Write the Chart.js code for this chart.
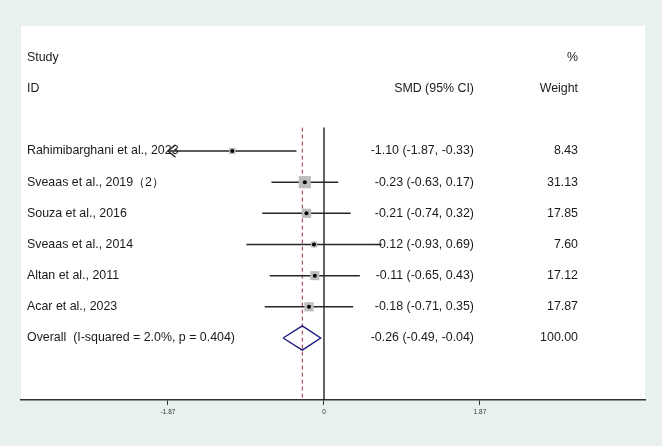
<!DOCTYPE html>
<html>
<head>
<meta charset="utf-8">
<script src="https://cdn.jsdelivr.net/npm/chart.js@4"></script>
<style>
  html, body { margin: 0; padding: 0; background: #e8f0f0; }
  #wrap { width: 662px; height: 446px; }
</style>
</head>
<body>
<div id="wrap"><canvas id="forest"></canvas></div>
<script>
// Forest plot data
const studies = ['Rahimibarghani et al., 2023', 'Sveaas et al., 2019（2）', 'Souza et al., 2016',
                 'Sveaas et al., 2014', 'Altan et al., 2011', 'Acar et al., 2023'];
const smd = [-1.10, -0.23, -0.21, -0.12, -0.11, -0.18];
const ciLow = [-1.87, -0.63, -0.74, -0.93, -0.65, -0.71];
const ciHigh = [-0.33, 0.17, 0.32, 0.69, 0.43, 0.35];
const weights = [8.43, 31.13, 17.85, 7.60, 17.12, 17.87];

const overallLabel = 'Overall  (I-squared = 2.0%, p = 0.404)';
const overallSmd = -0.26;
const overallLow = -0.49;
const overallHigh = -0.04;
const overallWeight = 100.00;

const xTicks = [-1.87, 0, 1.87];

// rows: 0 = "Study/%", 1 = "ID/SMD/Weight", studies start at 3
const firstRow = 3;
const rowOf = i => firstRow + i;
const overallRow = firstRow + studies.length;
const yTop = -1.01, yBottom = 10.99, lineTop = 2.25;

const fmt = v => v.toFixed(2);

// confidence interval lines, one dataset each
const ciSets = studies.map((s, i) => ({
    type: 'line',
    data: [{ x: ciLow[i], y: rowOf(i) }, { x: ciHigh[i], y: rowOf(i) }],
    borderColor: '#262626',
    borderWidth: 1.5,
    pointRadius: 0,
    order: 3
}));

// arrow where the CI reaches the axis limit
const arrowSets = studies.map((s, i) => i).filter(i => ciLow[i] <= xTicks[0]).map(i => ({
    type: 'line',
    data: [{ x: ciLow[i] + 0.09, y: rowOf(i) - 0.2 }, { x: ciLow[i], y: rowOf(i) }, { x: ciLow[i] + 0.09, y: rowOf(i) + 0.2 }],
    borderColor: '#262626',
    borderWidth: 1.3,
    pointRadius: 0,
    order: 3
}));

const datasets = [
    ...ciSets,
    ...arrowSets,
    {
        // weight boxes
        type: 'scatter',
        data: smd.map((v, i) => ({ x: v, y: rowOf(i) })),
        pointStyle: 'rect',
        pointRadius: weights.map(w => 1.55 * Math.sqrt(w)),
        backgroundColor: '#bdbdbd',
        borderWidth: 0,
        order: 2
    },
    {
        // point estimates
        type: 'scatter',
        data: smd.map((v, i) => ({ x: v, y: rowOf(i) })),
        pointStyle: 'circle',
        pointRadius: 2,
        backgroundColor: '#000',
        borderWidth: 0,
        order: 1
    },
    {
        // null line
        type: 'line',
        data: [{ x: 0, y: lineTop }, { x: 0, y: yBottom }],
        borderColor: '#111',
        borderWidth: 1.3,
        pointRadius: 0,
        order: 4
    },
    {
        // overall effect line
        type: 'line',
        data: [{ x: overallSmd, y: lineTop }, { x: overallSmd, y: yBottom }],
        borderColor: '#a0303a',
        borderWidth: 1,
        borderDash: [4, 3],
        pointRadius: 0,
        order: 4
    },
    {
        // overall diamond
        type: 'line',
        data: [
            { x: overallLow, y: overallRow },
            { x: overallSmd, y: overallRow - 0.39 },
            { x: overallHigh, y: overallRow },
            { x: overallSmd, y: overallRow + 0.39 },
            { x: overallLow, y: overallRow }
        ],
        borderColor: '#1c1c80',
        borderWidth: 1.4,
        pointRadius: 0,
        order: 0
    }
];

const panelPlugin = {
    id: 'panel',
    beforeDraw(chart) {
        const { ctx, chartArea: a } = chart;
        ctx.save();
        ctx.fillStyle = '#e8f0f0';
        ctx.fillRect(0, 0, chart.width, chart.height);
        ctx.fillStyle = '#ffffff';
        ctx.fillRect(a.left, a.top, a.right - a.left, a.bottom - a.top);
        ctx.restore();
    },
    afterDatasetsDraw(chart) {
        const { ctx } = chart;
        const y = chart.scales.y;
        ctx.save();
        ctx.font = '12.4px "Liberation Sans", Arial, sans-serif';
        ctx.fillStyle = '#1a1a1a';
        ctx.textBaseline = 'middle';

        const labelX = 27, smdX = 474, wtX = 578;
        const put = (txt, x, row, align) => {
            ctx.textAlign = align;
            ctx.fillText(txt, x, y.getPixelForValue(row));
        };
        put('Study', labelX, 0, 'left');
        put('ID', labelX, 1, 'left');
        put('%', wtX, 0, 'right');
        put('SMD (95% CI)', smdX, 1, 'right');
        put('Weight', wtX, 1, 'right');

        studies.forEach((s, i) => {
            put(s, labelX, rowOf(i), 'left');
            put(fmt(smd[i]) + ' (' + fmt(ciLow[i]) + ', ' + fmt(ciHigh[i]) + ')', smdX, rowOf(i), 'right');
            put(fmt(weights[i]), wtX, rowOf(i), 'right');
        });
        put(overallLabel, labelX, overallRow, 'left');
        put(fmt(overallSmd) + ' (' + fmt(overallLow) + ', ' + fmt(overallHigh) + ')', smdX, overallRow, 'right');
        put(fmt(overallWeight), wtX, overallRow, 'right');
        ctx.restore();
    }
};

new Chart(document.getElementById('forest'), {
    data: { datasets: datasets },
    options: {
        responsive: true,
        maintainAspectRatio: false,
        animation: false,
        layout: { padding: { left: 21, right: 17, top: 26, bottom: 0 } },
        plugins: {
            legend: { display: false },
            tooltip: { enabled: false }
        },
        scales: {
            x: {
                type: 'linear',
                min: -3.632,
                max: 3.848,
                afterBuildTicks: s => { s.ticks = xTicks.map(v => ({ value: v })); },
                afterFit: s => { s.height = 46; },
                border: { display: true, color: '#333', width: 1.5 },
                grid: { drawOnChartArea: false, drawTicks: true, tickLength: 5, color: '#333' },
                ticks: {
                    color: '#333',
                    padding: 3,
                    font: { family: '"Liberation Sans", Arial, sans-serif', size: 6.5 },
                    callback: v => String(v)
                }
            },
            y: {
                type: 'linear',
                display: false,
                reverse: true,
                min: yTop,
                max: yBottom
            }
        }
    },
    plugins: [panelPlugin]
});
</script>
</body>
</html>
